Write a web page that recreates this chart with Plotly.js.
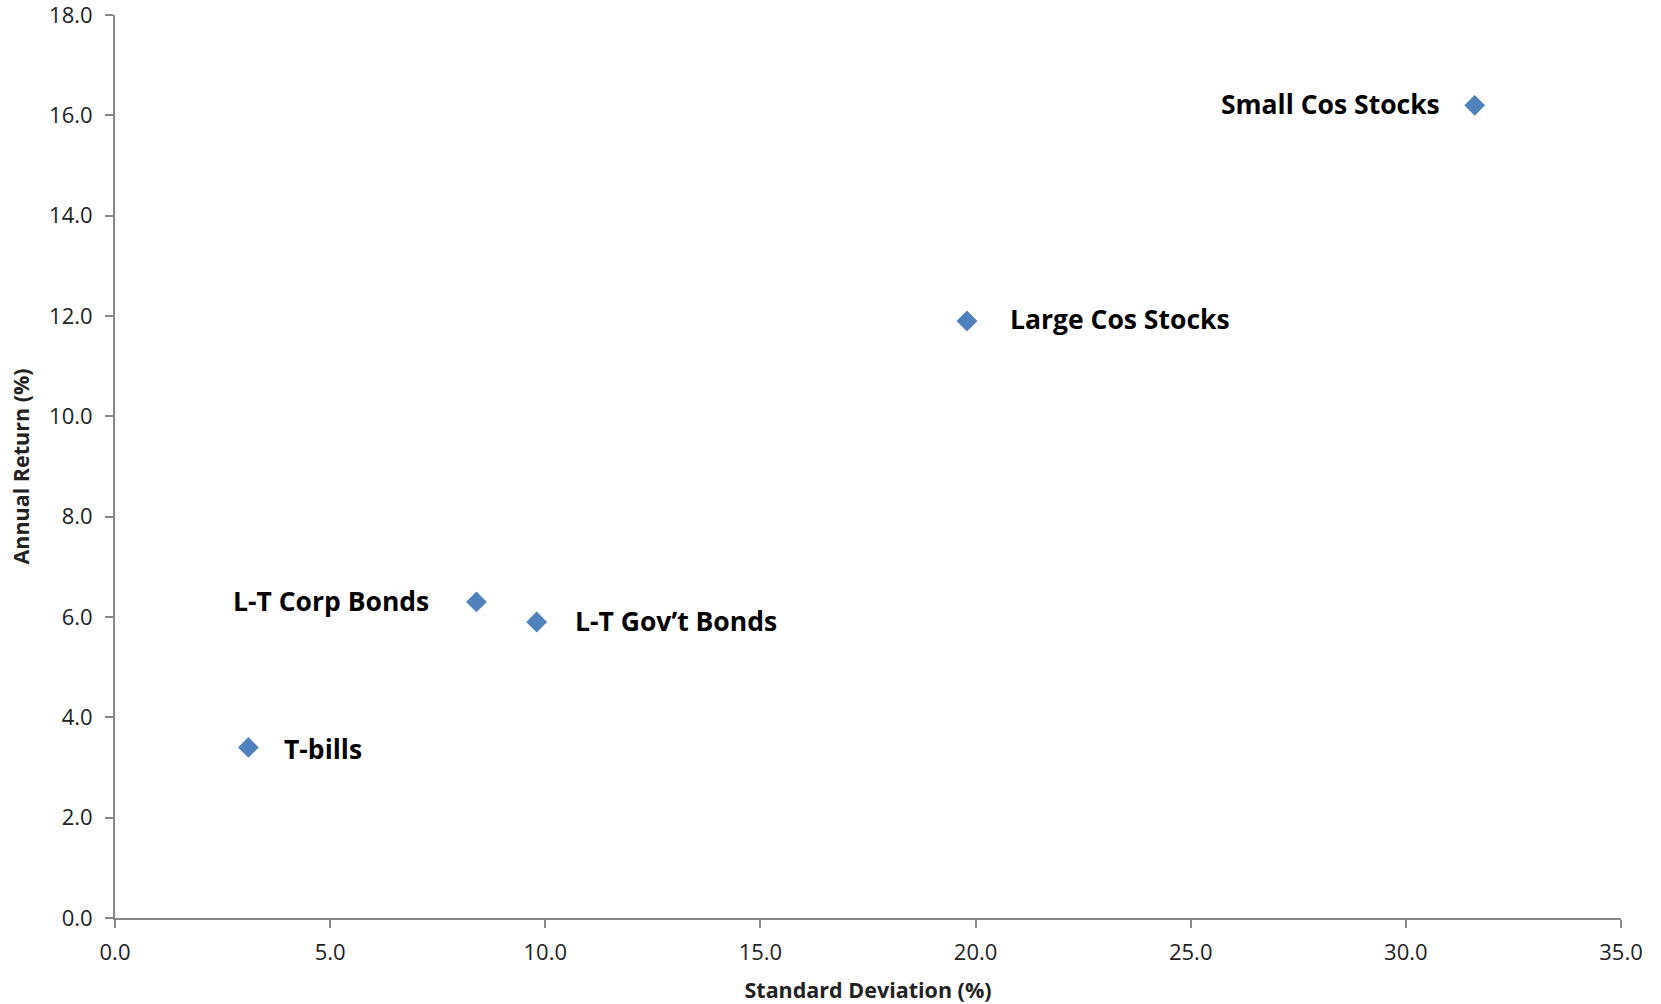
<!DOCTYPE html>
<html>
<head>
<meta charset="utf-8">
<script src="https://cdn.plot.ly/plotly-3.0.1.min.js"></script>
<style>
  html, body { margin: 0; padding: 0; background: #ffffff; }
  #chart { width: 1661px; height: 1004px; }
</style>
</head>
<body>
<div id="chart"></div>
<script>
// Asset classes: risk (standard deviation) vs. average annual return, in percent
const assetNames = ["Small Cos Stocks", "Large Cos Stocks", "L-T Corp Bonds", "L-T Gov\u2019t Bonds", "T-bills"];
const stdDev = [31.6, 19.8, 8.4, 9.8, 3.1];
const annualReturn = [16.2, 11.9, 6.3, 5.9, 3.4];

// label placement beside each marker: side, horizontal gap (px), vertical nudge (px)
const labelPlacement = {
  "Small Cos Stocks":   { side: "left",  gap: 33, dy: 1 },
  "Large Cos Stocks":   { side: "right", gap: 41, dy: 2 },
  "L-T Corp Bonds":     { side: "left",  gap: 45, dy: 1 },
  "L-T Gov\u2019t Bonds": { side: "right", gap: 36, dy: 1 },
  "T-bills":            { side: "right", gap: 34, dy: -2 }
};

const axisGrey = "#888888";
const fontFamily = "'Open Sans', 'Noto Sans', sans-serif";

const trace = {
  type: "scatter",
  mode: "markers",
  x: stdDev,
  y: annualReturn,
  text: assetNames,
  hoverinfo: "text+x+y",
  marker: { symbol: "diamond", size: 16, color: "#4F81BD" },
  cliponaxis: false
};

const annotations = assetNames.map((name, i) => {
  const p = labelPlacement[name];
  return {
    x: stdDev[i],
    y: annualReturn[i],
    xref: "x",
    yref: "y",
    text: "<b>" + name + "</b>",
    showarrow: false,
    xanchor: p.side === "left" ? "right" : "left",
    yanchor: "middle",
    xshift: p.side === "left" ? -p.gap : p.gap,
    yshift: p.dy,
    font: { family: fontFamily, size: 26.5, color: "#000000" }
  };
});

const axisCommon = {
  showgrid: false,
  zeroline: false,
  showline: true,
  linecolor: axisGrey,
  linewidth: 2,
  ticks: "outside",
  ticklen: 8,
  tickwidth: 2,
  tickcolor: axisGrey,
  tickformat: ".1f",
  ticklabeloverflow: "allow",
  tickfont: { family: fontFamily, size: 22, color: "#222222" }
};

const layout = {
  width: 1661,
  height: 1004,
  paper_bgcolor: "#ffffff",
  plot_bgcolor: "#ffffff",
  showlegend: false,
  margin: { l: 115, r: 40, t: 15, b: 86 },
  xaxis: Object.assign({}, axisCommon, {
    range: [0, 35],
    dtick: 5,
    tick0: 0,
    ticklabelstandoff: 6,
    title: {
      text: "<b>Standard Deviation (%)</b>",
      font: { family: fontFamily, size: 21.5, color: "#222222" },
      standoff: 18
    }
  }),
  yaxis: Object.assign({}, axisCommon, {
    range: [0, 18],
    dtick: 2,
    tick0: 0,
    ticklabelstandoff: 8,
    title: {
      text: "<b>Annual Return (%)</b>",
      font: { family: fontFamily, size: 21.5, color: "#222222" },
      standoff: 14
    }
  }),
  annotations: annotations
};

Plotly.newPlot("chart", [trace], layout, { displayModeBar: false, staticPlot: true });
</script>
</body>
</html>
